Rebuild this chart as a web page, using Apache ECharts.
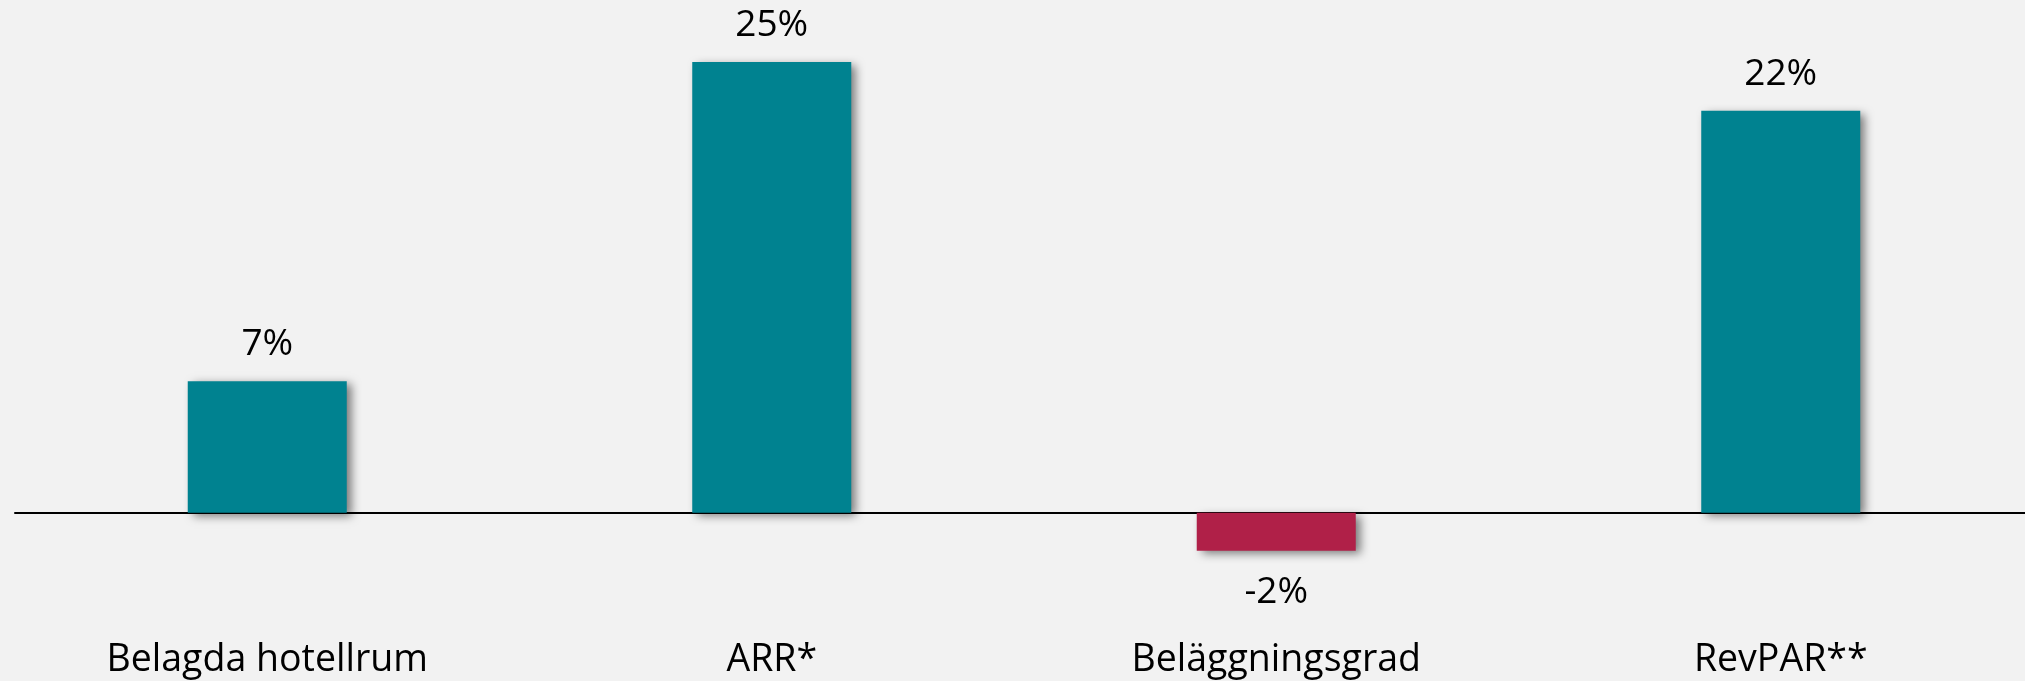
<!DOCTYPE html>
<html>
<head>
<meta charset="utf-8">
<script src="https://cdn.jsdelivr.net/npm/echarts@6/dist/echarts.min.js"></script>
<style>
  html, body { margin: 0; padding: 0; background: #f2f2f2; overflow: hidden; }
  #chart { width: 2040px; height: 681px; }
</style>
</head>
<body>
<div id="chart"></div>
<script>
// kategorier och värden (förändring i %)
const categories = ['Belagda hotellrum', 'ARR*', 'Beläggningsgrad', 'RevPAR**']
const values = [7.3, 25, -2.1, 22.3]

const teal = '#008290'
const red = '#b02048'

const chart = echarts.init(document.getElementById('chart'))

const barData = values.map(v => ({
  value: v,
  itemStyle: { color: v < 0 ? red : teal },
  label: { position: v < 0 ? 'bottom' : 'top', distance: v < 0 ? 23 : 18 }
}))

chart.setOption({
  backgroundColor: '#f2f2f2',
  animation: false,
  grid: { left: 15, width: 2018, top: 62, bottom: 78, containLabel: false },
  xAxis: [
    {
      type: 'category',
      data: categories,
      position: 'bottom',
      axisLine: { show: false, onZero: false },
      axisTick: { show: false },
      axisLabel: {
        margin: 39,
        fontFamily: 'Open Sans',
        fontSize: 37.5,
        lineHeight: 37,
        color: '#000'
      }
    },
    {
      // nollinjen
      type: 'category',
      data: categories,
      axisLine: { show: true, onZero: true, lineStyle: { color: '#000', width: 2 } },
      axisTick: { show: false },
      axisLabel: { show: false }
    }
  ],
  yAxis: {
    type: 'value',
    min: -5,
    max: 25,
    show: false,
    splitLine: { show: false }
  },
  series: [{
    type: 'bar',
    xAxisIndex: 0,
    data: barData,
    barWidth: 159,
    itemStyle: {
      shadowColor: 'rgba(0,0,0,0.5)',
      shadowBlur: 9,
      shadowOffsetX: 5,
      shadowOffsetY: 3
    },
    label: {
      show: true,
      fontFamily: 'Open Sans',
      fontSize: 37,
      lineHeight: 37,
      color: '#000',
      formatter: p => Math.round(p.value) + '%'
    }
  }]
})
</script>
</body>
</html>
